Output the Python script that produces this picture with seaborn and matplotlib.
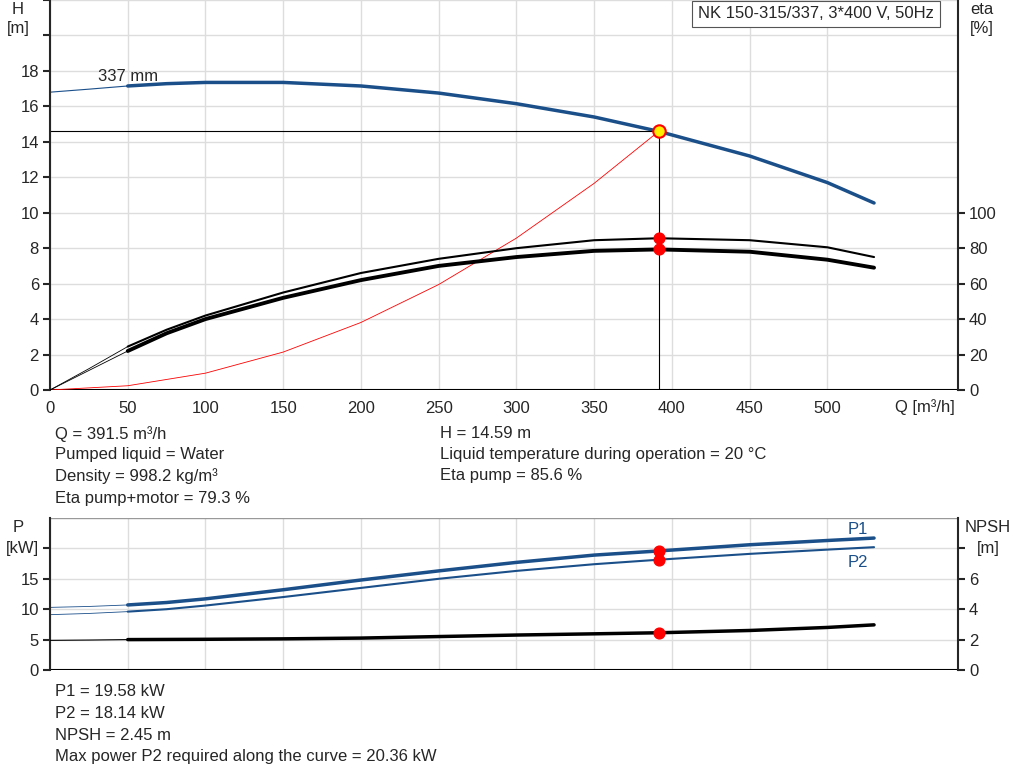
import pandas as pd
import seaborn as sns
import matplotlib.pyplot as plt

# pump curve data
q = [0, 25, 50, 75, 100, 150, 200, 250, 300, 350, 391.5, 450, 500, 530]
head = [16.8, 16.97, 17.15, 17.28, 17.35, 17.35, 17.15, 16.75, 16.15, 15.4, 14.59, 13.2, 11.7, 10.55]
eta_pump = [0, 12, 24.5, 34, 42, 55, 66, 74, 80, 84.5, 85.6, 84.5, 80.5, 75]
eta_total = [0, 11, 22, 32, 40, 52, 62, 70, 75, 78.5, 79.3, 78, 73.5, 69]
p1 = [10.3, 10.45, 10.7, 11.1, 11.7, 13.2, 14.8, 16.3, 17.7, 18.9, 19.58, 20.6, 21.3, 21.7]
p2 = [9.1, 9.3, 9.6, 10.0, 10.6, 12.0, 13.5, 15.0, 16.3, 17.4, 18.14, 19.1, 19.8, 20.2]
npsh = [1.95, 1.97, 2.0, 2.01, 2.02, 2.05, 2.1, 2.2, 2.3, 2.38, 2.45, 2.6, 2.8, 2.97]
sys_q = [0, 50, 100, 150, 200, 250, 300, 350, 391.5]
sys_h = [0, 0.24, 0.95, 2.14, 3.81, 5.95, 8.57, 11.66, 14.59]
duty_q, duty_h = 391.5, 14.59

sns.set_style('white')
plt.rcParams['font.family'] = ['Liberation Sans', 'DejaVu Sans']
plt.rcParams['font.size'] = 12

blue = '#1a4f8a'
df = pd.DataFrame({'q': q, 'head': head, 'eta_pump': eta_pump, 'eta_total': eta_total,
                   'p1': p1, 'p2': p2, 'npsh': npsh})
full = df[df.q >= 50]
lead = df[df.q <= 50]
XMAX = 584

fig = plt.figure(figsize=(10.24, 7.81), dpi=100)
W, H = 1024, 781
ax = fig.add_axes([50 / W, (H - 390) / H, 908 / W, 390 / H])
ax2 = ax.twinx()

for a in (ax, ax2):
    for s in ('top', 'bottom'):
        a.spines[s].set_visible(False)
ax.spines['right'].set_visible(False)
ax.spines['left'].set_linewidth(1.5)
ax2.spines['right'].set_linewidth(1.5)
ax2.spines['left'].set_visible(False)

ax.set_xlim(0, XMAX)
ax.set_ylim(0, 22)
ax2.set_ylim(0, 220)
ax.set_xticks(range(0, 501, 50))
ax.set_yticks(range(0, 23, 2))
ax.set_yticklabels([str(v) if v <= 18 else '' for v in range(0, 23, 2)])
ax2.set_yticks(range(0, 101, 20))
ax.grid(True, color='#dddddd', lw=1)
ax.tick_params(direction='out', length=5, width=1.5, left=True, bottom=False, pad=3)
ax2.tick_params(direction='out', length=5, width=1.5, right=True, pad=3)
ax.axhline(0, color='black', lw=1.5)

sns.lineplot(data=lead, x='q', y='head', ax=ax, color=blue, lw=0.8, sort=False)
sns.lineplot(data=full, x='q', y='head', ax=ax, color=blue, lw=2.5, sort=False)
sns.lineplot(x=sys_q, y=sys_h, ax=ax, color='red', lw=0.6, sort=False)
sns.lineplot(data=lead, x='q', y='eta_pump', ax=ax2, color='black', lw=0.6, sort=False)
sns.lineplot(data=lead, x='q', y='eta_total', ax=ax2, color='black', lw=0.6, sort=False)
sns.lineplot(data=full, x='q', y='eta_pump', ax=ax2, color='black', lw=1.5, sort=False)
sns.lineplot(data=full, x='q', y='eta_total', ax=ax2, color='black', lw=2.8, sort=False)
ax.plot([0, duty_q], [duty_h, duty_h], color='black', lw=0.8)
ax.plot([duty_q, duty_q], [0, duty_h], color='black', lw=0.8)
ax2.scatter([duty_q, duty_q], [85.6, 79.3], color='red', s=60, zorder=5)
ax.scatter([duty_q], [duty_h], color='#ffee00', edgecolor='red', s=80, lw=1.5, zorder=6)
ax.set_xlabel('')
ax.set_ylabel('')
ax2.set_ylabel('')
ax.text(31, 17.45, '337 mm')
fig.text(18 / W, 1 - 10 / H, 'H', ha='center', va='center')
fig.text(18 / W, 1 - 29 / H, '[m]', ha='center', va='center')
fig.text(982 / W, 1 - 10 / H, 'eta', ha='center', va='center')
fig.text(982 / W, 1 - 29 / H, '[%]', ha='center', va='center')
fig.text(925 / W, 1 - 407 / H, 'Q [m³/h]', ha='center', va='center')
fig.text(698 / W, 1 - 14 / H, 'NK 150-315/337, 3*400 V, 50Hz', va='center',
         bbox=dict(boxstyle='square,pad=0.35', fc='white', ec='#555555', lw=0.8))

info = [(55, 434, 'Q = 391.5 m³/h'), (55, 455, 'Pumped liquid = Water'),
        (55, 476, 'Density = 998.2 kg/m³'), (55, 498, 'Eta pump+motor = 79.3 %'),
        (440, 434, 'H = 14.59 m'), (440, 455, 'Liquid temperature during operation = 20 °C'),
        (440, 476, 'Eta pump = 85.6 %'),
        (55, 691, 'P1 = 19.58 kW'), (55, 713, 'P2 = 18.14 kW'), (55, 735, 'NPSH = 2.45 m'),
        (55, 757, 'Max power P2 required along the curve = 20.36 kW')]
for x, y, t in info:
    fig.text(x / W, 1 - y / H, t, va='center')

# power / NPSH panel
bx = fig.add_axes([50 / W, (H - 670) / H, 908 / W, 152 / H])
bx2 = bx.twinx()
for a in (bx, bx2):
    for s in ('top', 'bottom'):
        a.spines[s].set_visible(False)
bx.spines['right'].set_visible(False)
bx2.spines['left'].set_visible(False)
bx.spines['left'].set_linewidth(1.5)
bx2.spines['right'].set_linewidth(1.5)
bx.set_xlim(0, XMAX)
bx.set_ylim(0, 25)
bx2.set_ylim(0, 10)
bx.set_xticks(range(0, 501, 50))
bx.set_xticklabels([])
bx.set_yticks([0, 5, 10, 15, 20])
bx.set_yticklabels(['0', '5', '10', '15', ''])
bx2.set_yticks([0, 2, 4, 6, 8])
bx2.set_yticklabels(['0', '2', '4', '6', ''])
bx.grid(True, color='#dddddd', lw=1)
bx.tick_params(direction='out', length=5, width=1.5, left=True, bottom=False, pad=3)
bx2.tick_params(direction='out', length=5, width=1.5, right=True, pad=3)
bx.axhline(0, color='black', lw=1.5)
bx.axhline(25, color='#999999', lw=1)

sns.lineplot(data=lead, x='q', y='p1', ax=bx, color=blue, lw=0.6, sort=False)
sns.lineplot(data=lead, x='q', y='p2', ax=bx, color=blue, lw=0.6, sort=False)
sns.lineplot(data=full, x='q', y='p1', ax=bx, color=blue, lw=2.5, sort=False)
sns.lineplot(data=full, x='q', y='p2', ax=bx, color=blue, lw=1.5, sort=False)
sns.lineplot(data=lead, x='q', y='npsh', ax=bx2, color='black', lw=0.8, sort=False)
sns.lineplot(data=full, x='q', y='npsh', ax=bx2, color='black', lw=2.5, sort=False)
bx.scatter([duty_q, duty_q], [19.58, 18.14], color='red', s=60, zorder=5)
bx2.scatter([duty_q], [2.45], color='red', s=60, zorder=5)
for a in (bx, bx2):
    a.set_xlabel('')
    a.set_ylabel('')
bx.text(513, 22.3, 'P1', color=blue)
bx.text(513, 17.0, 'P2', color=blue)
fig.text(18 / W, 1 - 528 / H, 'P', ha='center', va='center')
fig.text(22 / W, 1 - 548 / H, '[kW]', ha='center', va='center')
fig.text(988 / W, 1 - 528 / H, 'NPSH', ha='center', va='center')
fig.text(988 / W, 1 - 548 / H, '[m]', ha='center', va='center')

fig.savefig('out.png', dpi=100)
